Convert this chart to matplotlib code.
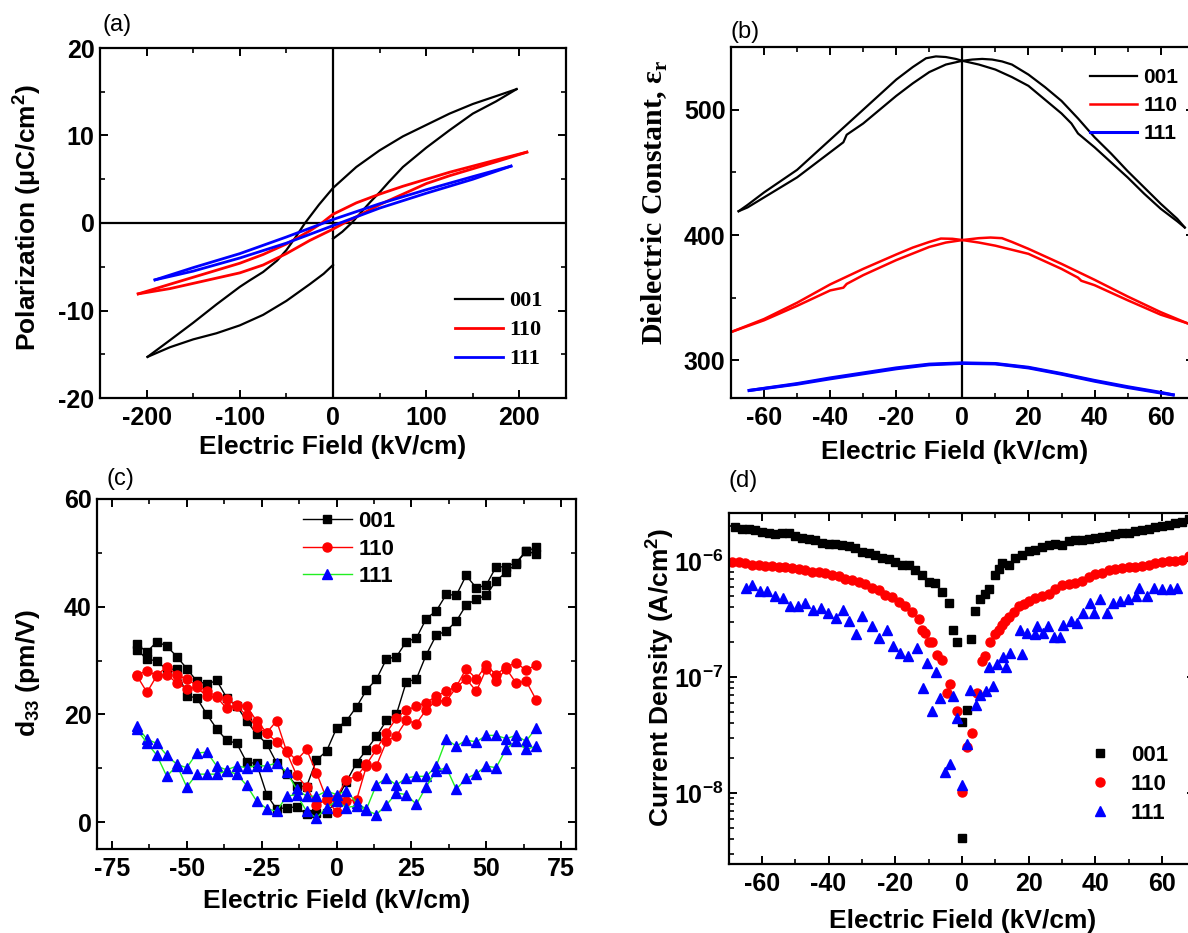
import numpy as np
import matplotlib
matplotlib.use("Agg")
import matplotlib.pyplot as plt
from matplotlib.font_manager import FontProperties
from matplotlib.ticker import MultipleLocator, FixedLocator, FuncFormatter, LogLocator, NullFormatter

TICK_SIZE = 18
LABEL_SIZE = 19

plt.rcParams.update({
    "font.family": ["Liberation Sans", "DejaVu Sans"],
    "font.weight": "bold",
    "font.size": TICK_SIZE,
    "axes.labelweight": "bold",
    "axes.labelsize": LABEL_SIZE,
    "axes.linewidth": 1.6,
    "axes.unicode_minus": False,
    "xtick.direction": "in",
    "ytick.direction": "in",
    "xtick.top": True,
    "ytick.right": True,
    "xtick.major.size": 6,
    "ytick.major.size": 6,
    "xtick.minor.size": 3.5,
    "ytick.minor.size": 3.5,
    "xtick.major.width": 1.4,
    "ytick.major.width": 1.4,
    "xtick.minor.width": 1.2,
    "ytick.minor.width": 1.2,
    "xtick.major.pad": 6,
    "ytick.major.pad": 4,
    "legend.frameon": False,
})

# ---------------- (a) P-E loops ----------------
pe_001_up_x = [197, 175, 150, 125, 100, 75, 50, 25, 0, -15, -30, -40, -50, -60, -75, -90, -100, -125, -150, -175, -199]
pe_001_up_y = [15.3, 14.5, 13.6, 12.5, 11.2, 9.9, 8.3, 6.4, 4.0, 2.1, 0.0, -1.6, -3.1, -4.3, -5.6, -6.6, -7.3, -9.3, -11.4, -13.4, -15.3]
pe_001_lo1_x = [-199, -175, -150, -125, -100, -75, -50, -25, -10, 0]
pe_001_lo1_y = [-15.3, -14.2, -13.3, -12.6, -11.7, -10.5, -8.9, -7.0, -5.8, -4.8]
pe_001_lo2_x = [0, 10, 20, 30, 40, 50, 60, 75, 100, 125, 150, 175, 197]
pe_001_lo2_y = [-1.8, -1.0, 0.0, 1.2, 2.4, 3.5, 4.7, 6.4, 8.6, 10.6, 12.5, 13.9, 15.3]

pe_110_up_x = [208, 175, 150, 125, 100, 75, 50, 25, 0, -12, -25, -50, -75, -100, -125, -150, -175, -209]
pe_110_up_y = [8.1, 7.2, 6.5, 5.8, 5.0, 4.2, 3.3, 2.3, 1.0, 0.0, -0.9, -2.4, -3.6, -4.6, -5.4, -6.2, -7.0, -8.1]
pe_110_lo_x = [-209, -175, -150, -125, -100, -75, -50, -25, 0, 12, 25, 50, 75, 100, 125, 150, 175, 208]
pe_110_lo_y = [-8.1, -7.5, -6.9, -6.3, -5.7, -4.8, -3.5, -2.0, -0.7, 0.0, 0.7, 2.1, 3.3, 4.5, 5.4, 6.2, 7.0, 8.1]

pe_111_up_x = [191, 150, 100, 50, 25, 0, -25, -50, -100, -150, -191]
pe_111_up_y = [6.5, 5.3, 3.8, 2.2, 1.3, 0.4, -0.6, -1.6, -3.5, -5.1, -6.5]
pe_111_lo_x = [-191, -150, -100, -50, -25, 0, 25, 50, 100, 150, 191]
pe_111_lo_y = [-6.5, -5.5, -4.0, -2.3, -1.3, -0.3, 0.7, 1.7, 3.4, 5.0, 6.5]

# ---------------- (b) dielectric constant ----------------
eps_001_a_x = [-67.7, -65, -60, -55, -50, -45, -40, -35, -30, -25, -20, -15, -11, -8, -5, -2, 0,
               5, 10, 15, 20, 25, 30, 33, 35, 40, 45, 50, 55, 60, 65, 67.3]
eps_001_a_y = [419, 424, 434, 443, 452, 464, 476, 488, 500, 512, 524, 534, 541, 542.5, 542, 540.5, 539,
               536, 532, 526, 519, 508, 497, 489, 481, 470, 458, 446, 433, 421, 411, 406]
eps_001_b_x = [-67.7, -65, -60, -55, -50, -45, -40, -36, -35, -30, -25, -20, -15, -10, -5, 0,
               3, 6, 9, 12, 15, 20, 25, 30, 35, 40, 45, 50, 55, 60, 65, 67.3]
eps_001_b_y = [419, 422, 430, 438, 446, 456, 466, 474, 480, 489, 500, 511, 521, 530, 536, 539,
               540, 540.5, 540, 538.5, 536, 528, 518, 507, 493, 478, 465, 451, 438, 425, 413, 406]

eps_110_a_x = [-70, -60, -50, -40, -30, -20, -15, -10, -6.5, -3, 0, 5, 10, 20, 30, 35, 36, 40, 50, 60, 68]
eps_110_a_y = [322.6, 333, 346, 360.6, 373, 384.5, 390, 394.5, 397.2, 397, 396, 394, 391.5, 385, 373,
               366, 363.5, 360, 348, 336.5, 329.7]
eps_110_b_x = [-70, -60, -50, -40, -36, -35, -30, -20, -10, -5, 0, 5, 8.5, 12, 15, 20, 30, 40, 50, 60, 68]
eps_110_b_y = [322.6, 332, 343.5, 355.8, 358, 361, 368, 380, 390.5, 394, 396, 397.5, 398, 397.5, 394.5,
               389, 377, 364.3, 351, 338.5, 329.7]

eps_111_x = [-64.5, -50, -40, -30, -20, -10, 0, 10, 20, 30, 40, 50, 60, 63.8]
eps_111_a_y = [276, 281.5, 286, 290, 294, 297, 298, 297.5, 294.5, 289.5, 284, 279, 274.5, 272.5]
eps_111_b_y = [276, 281, 285.3, 289.3, 293.3, 296.5, 297.6, 297.2, 294, 289, 283.4, 278.4, 274, 272.5]

# ---------------- (c) d33 ----------------
d33_field = [-66.7, -63.3, -60.0, -56.7, -53.3, -50.0, -46.7, -43.3, -40.0, -36.7, -33.3, -30.0, -26.7,
             -23.3, -20.0, -16.7, -13.3, -10.0, -6.7, -3.3, 0.0, 3.3, 6.7, 10.0, 13.3, 16.7, 20.0, 23.3,
             26.7, 30.0, 33.3, 36.7, 40.0, 43.3, 46.7, 50.0, 53.3, 56.7, 60.0, 63.3, 66.7]
d33_001_a = [33.0, 31.6, 33.5, 32.7, 30.7, 28.5, 26.2, 25.6, 26.3, 23.1, 21.5, 18.8, 16.4, 14.5, 11.0, 9.0,
             6.7, 6.6, 11.5, 13.2, 17.4, 18.8, 21.4, 24.5, 26.5, 30.3, 30.7, 33.5, 34.2, 37.8, 39.2, 42.3,
             42.1, 45.8, 43.5, 44.0, 47.4, 47.4, 48.2, 50.3, 51.0]
d33_001_b = [32.0, 30.3, 29.9, 28.3, 28.5, 23.4, 23.1, 20.0, 17.3, 15.2, 14.6, 11.1, 10.9, 5.1, 2.4, 2.7,
             2.8, 1.5, 1.7, 1.7, 4.0, 7.5, 11.0, 13.4, 15.9, 18.9, 20.0, 26.0, 26.6, 31.1, 34.7, 35.5,
             37.3, 40.3, 41.4, 42.1, 44.8, 46.4, 48.0, 50.3, 49.8]
d33_110_a = [27.4, 28.0, 27.3, 28.8, 27.4, 26.5, 25.4, 24.3, 23.4, 22.8, 21.7, 21.5, 18.8, 16.6, 18.8, 13.2,
             11.5, 13.5, 9.2, 4.3, 4.5, 7.9, 8.5, 10.7, 13.5, 16.6, 19.3, 20.8, 21.5, 22.2, 23.4, 24.3,
             25.1, 28.5, 26.6, 29.1, 27.4, 28.8, 29.6, 28.2, 29.2]
d33_110_b = [27.2, 24.1, 27.2, 27.4, 25.8, 24.8, 25.0, 23.4, 23.2, 21.1, 21.5, 19.8, 17.7, 16.5, 14.9, 13.0,
             8.7, 6.5, 3.2, 4.1, 1.9, 4.0, 4.1, 10.4, 10.4, 15.0, 16.0, 18.9, 18.3, 20.9, 22.5, 22.5,
             25.0, 26.6, 24.3, 28.4, 26.2, 28.5, 25.8, 26.2, 22.7]
d33_111_a = [17.8, 15.4, 14.6, 12.4, 10.7, 10.1, 12.8, 13.0, 10.4, 9.7, 10.4, 10.1, 10.5, 10.4, 11.0, 9.3,
             6.1, 4.8, 4.8, 5.8, 5.1, 5.8, 3.6, 2.4, 6.9, 8.2, 6.9, 8.2, 8.5, 8.5, 10.4, 15.4,
             14.1, 15.2, 14.9, 16.1, 16.1, 15.5, 16.1, 15.0, 17.5]
d33_111_b = [17.2, 14.7, 12.4, 8.5, 10.5, 6.5, 8.9, 8.9, 8.9, 9.5, 8.9, 6.8, 3.9, 2.5, 2.0, 4.8,
             5.1, 2.0, 0.8, 2.7, 3.9, 2.7, 3.0, 2.2, 1.4, 3.2, 5.4, 5.1, 3.3, 6.6, 9.5, 10.1,
             6.1, 8.1, 9.0, 10.4, 10.1, 13.6, 15.0, 13.5, 14.1]

# ---------------- (d) leakage current (log10 of A/cm^2) ----------------
j_001_x = [-68, -66, -64, -62, -60, -58, -56, -54, -52, -50, -48, -46, -44, -42, -40, -38, -36, -34, -32,
           -30, -28, -26, -24, -22, -20, -18, -16, -14, -12, -10, -8, -6, -4,
           -2.8, -1.5, 0, 0, 1.4, 2.8, 4, 5.5, 7, 8, 10, 11, 12,
           14, 16, 18, 20, 22, 24, 26, 28, 30, 32, 34, 36, 38, 40, 42, 44, 46, 48, 50, 52, 54, 56, 58,
           60, 62, 64, 66, 68]
j_001_log = [-5.71, -5.72, -5.72, -5.73, -5.75, -5.76, -5.77, -5.76, -5.76, -5.78, -5.80, -5.81, -5.82,
             -5.84, -5.85, -5.85, -5.86, -5.87, -5.89, -5.92, -5.93, -5.95, -5.97, -5.98, -6.01, -6.03,
             -6.03, -6.08, -6.12, -6.18, -6.19, -6.27, -6.36,
             -6.59, -6.70, -8.39, -7.39, -7.28, -6.67, -6.43, -6.33, -6.28, -6.24, -6.12, -6.07, -6.02,
             -6.03, -5.97, -5.95, -5.91, -5.90, -5.88, -5.86, -5.85, -5.86, -5.83, -5.82, -5.82, -5.81,
             -5.80, -5.79, -5.78, -5.77, -5.76, -5.76, -5.74, -5.73, -5.72, -5.71, -5.70, -5.69, -5.67,
             -5.66, -5.64]
j_110_x = [-69, -67, -65, -63, -61, -59, -57, -55, -53, -51, -49, -47, -45, -43, -41, -39, -37, -35, -33,
           -31, -29, -27, -25, -23, -21, -19, -17, -15, -13,
           -12, -11, -10, -9, -7.5, -6, -4.5, -3.5, -1.5, 0, 1.5, 3, 4.5, 6, 7, 8.5, 10, 11, 12, 13, 14,
           15.5, 17, 18.5, 20,
           22, 24, 26, 28, 30, 32, 34, 36, 38, 40, 42, 44, 46, 48, 50, 52, 54, 56, 58, 60, 62, 64, 66, 68]
j_110_log = [-6.01, -6.01, -6.02, -6.03, -6.03, -6.04, -6.04, -6.05, -6.05, -6.06, -6.07, -6.08, -6.09,
             -6.09, -6.10, -6.12, -6.13, -6.15, -6.16, -6.18, -6.20, -6.23, -6.25, -6.29, -6.31, -6.35,
             -6.39, -6.44, -6.50,
             -6.59, -6.62, -6.70, -6.70, -6.81, -6.85, -7.14, -7.06, -7.29, -7.99, -7.60, -7.48, -7.14,
             -6.86, -6.82, -6.70, -6.63, -6.59, -6.55, -6.52, -6.48, -6.44, -6.39, -6.37, -6.34,
             -6.32, -6.30, -6.28, -6.24, -6.21, -6.20, -6.19, -6.17, -6.14, -6.11, -6.10, -6.08, -6.07,
             -6.06, -6.05, -6.05, -6.04, -6.03, -6.02, -6.01, -6.00, -6.00, -5.99, -5.96]
j_111_x = [-64.7, -63, -60.7, -58.4, -56.1, -53.8, -51.5, -49.3, -47, -44.7, -42.4, -40.2, -37.9, -35.6,
           -33.9, -31.7, -30, -27.1, -24.8, -22.5, -20.8, -18.5, -16.2, -13.4, -11.7, -10.6, -9.1, -7.7,
           -6.6, -5.1, -3.7, -2.6, -1.5, 0, 1.4, 2.5, 4.2, 5.4, 7.1, 8.2, 9.4, 10.5, 12.2, 13.3, 14.5,
           17.3, 17.9, 19.6, 21.9, 22.5, 24.2, 25.9, 27.6, 29.3, 30.4, 32.7, 34.4, 36.2, 38.4, 39.5,
           41.3, 43.6, 45.3, 47.5, 49.8, 52.1, 53.2, 55.5, 57.7, 60, 62.3, 64.6]
j_111_log = [-6.23, -6.21, -6.26, -6.26, -6.30, -6.32, -6.39, -6.39, -6.36, -6.42, -6.40, -6.45, -6.49,
             -6.42, -6.52, -6.63, -6.47, -6.56, -6.66, -6.59, -6.73, -6.79, -6.82, -6.75, -7.09, -6.88,
             -7.29, -6.96, -7.18, -7.82, -7.75, -7.16, -7.35, -7.93, -7.58, -7.11, -7.24, -7.15, -7.12,
             -6.91, -7.08, -6.89, -6.83, -6.91, -6.79, -6.59, -6.80, -6.62, -6.63, -6.56, -6.62, -6.56,
             -6.65, -6.65, -6.55, -6.52, -6.53, -6.45, -6.36, -6.45, -6.33, -6.45, -6.36, -6.34, -6.33,
             -6.30, -6.23, -6.30, -6.23, -6.24, -6.24, -6.23]

labels = ["001", "110", "111"]

W, H = 1188.0, 933.0
fig = plt.figure(figsize=(W / 100, H / 100), dpi=100)


def px_axes(left, top, right, bottom):
    # axes box given in pixel coordinates of the final image
    return fig.add_axes([left / W, 1 - bottom / H, (right - left) / W, (bottom - top) / H])


def place_labels(ax, xl, yl, xpos, ypos, yfont=None):
    ax.set_xlabel(xl, va="center")
    ax.xaxis.set_label_coords(xpos[0], xpos[1])
    if yfont is None:
        ax.set_ylabel(yl, va="center")
    else:
        ax.set_ylabel(yl, va="center", fontproperties=yfont)
    ax.yaxis.set_label_coords(ypos[0], ypos[1])


ax_a = px_axes(100, 48, 566, 398)
ax_b = px_axes(731, 47, 1193.7, 398)
ax_c = px_axes(97, 499, 576, 849)
ax_d = px_axes(728.5, 513, 1195.3, 864)

# ---- (a)
ax_a.axhline(0, color="black", lw=1.6, zorder=1)
ax_a.axvline(0, color="black", lw=1.6, zorder=1)
ax_a.plot(pe_001_up_x, pe_001_up_y, color="black", lw=1.6, label=labels[0])
ax_a.plot(pe_001_lo1_x, pe_001_lo1_y, color="black", lw=1.6)
ax_a.plot(pe_001_lo2_x, pe_001_lo2_y, color="black", lw=1.6)
ax_a.plot(pe_110_up_x, pe_110_up_y, color="red", lw=2.0, label=labels[1])
ax_a.plot(pe_110_lo_x, pe_110_lo_y, color="red", lw=2.0)
ax_a.plot(pe_111_up_x, pe_111_up_y, color="blue", lw=2.0, label=labels[2])
ax_a.plot(pe_111_lo_x, pe_111_lo_y, color="blue", lw=2.0)
ax_a.set_xlim(-250, 250)
ax_a.set_ylim(-20, 20)
ax_a.xaxis.set_major_locator(MultipleLocator(100))
ax_a.xaxis.set_minor_locator(MultipleLocator(50))
ax_a.yaxis.set_major_locator(MultipleLocator(10))
ax_a.yaxis.set_minor_locator(MultipleLocator(5))
place_labels(ax_a, "Electric Field (kV/cm)", "Polarization (μC/cm$^\\mathregular{2}$)",
             (0.5, -0.14), (-0.158, 0.517))
ax_a.legend(loc="upper left", bbox_to_anchor=(0.762, 0.306), borderaxespad=0, borderpad=0,
            handlelength=2.15, handletextpad=0.3, labelspacing=0.38,
            prop={"family": "Liberation Serif", "weight": "bold", "size": 16})

# ---- (b)
ax_b.axvline(0, color="black", lw=1.6, zorder=1)
ax_b.plot(eps_001_a_x, eps_001_a_y, color="black", lw=1.6, label=labels[0])
ax_b.plot(eps_001_b_x, eps_001_b_y, color="black", lw=1.6)
ax_b.plot(eps_110_a_x, eps_110_a_y, color="red", lw=1.8, label=labels[1])
ax_b.plot(eps_110_b_x, eps_110_b_y, color="red", lw=1.8)
ax_b.plot(eps_111_x, eps_111_a_y, color="blue", lw=2.2, label=labels[2])
ax_b.plot(eps_111_x, eps_111_b_y, color="blue", lw=2.2)
ax_b.set_xlim(-70, 70)
ax_b.set_ylim(270, 550)
ax_b.xaxis.set_major_locator(MultipleLocator(20))
ax_b.xaxis.set_minor_locator(MultipleLocator(10))
ax_b.yaxis.set_major_locator(FixedLocator([300, 400, 500]))
ax_b.yaxis.set_minor_locator(FixedLocator([350, 450]))
serif_bold = FontProperties(family="Liberation Serif", weight="bold", size=21.5)
place_labels(ax_b, "Electric Field (kV/cm)", "Dielectric Constant, ε$_\\mathregular{r}$",
             (0.483, -0.154), (-0.164, 0.556), yfont=serif_bold)
ax_b.legend(loc="upper left", bbox_to_anchor=(0.776, 0.94), borderaxespad=0, borderpad=0,
            handlelength=2.25, handletextpad=0.3, labelspacing=0.43,
            prop={"weight": "bold", "size": 15})

# ---- (c)
green = "#22ee22"
ax_c.plot(d33_field, d33_001_a, color="black", lw=1.0, marker="s", ms=6, mfc="black", mec="black",
          label=labels[0])
ax_c.plot(d33_field, d33_001_b, color="black", lw=1.0, marker="s", ms=6, mfc="black", mec="black")
ax_c.plot(d33_field, d33_110_a, color="red", lw=1.0, marker="o", ms=6.5, mfc="red", mec="red",
          label=labels[1])
ax_c.plot(d33_field, d33_110_b, color="red", lw=1.0, marker="o", ms=6.5, mfc="red", mec="red")
ax_c.plot(d33_field, d33_111_a, color=green, lw=1.0, marker="^", ms=7, mfc="blue", mec="blue",
          label=labels[2])
ax_c.plot(d33_field, d33_111_b, color=green, lw=1.0, marker="^", ms=7, mfc="blue", mec="blue")
ax_c.set_xlim(-80, 80)
ax_c.set_ylim(-5, 60)
ax_c.xaxis.set_major_locator(MultipleLocator(25))
ax_c.xaxis.set_minor_locator(MultipleLocator(12.5))
ax_c.yaxis.set_major_locator(MultipleLocator(20))
ax_c.yaxis.set_minor_locator(MultipleLocator(10))
place_labels(ax_c, "Electric Field (kV/cm)", "d$_\\mathregular{33}$ (pm/V)",
             (0.501, -0.149), (-0.144, 0.503))
ax_c.legend(loc="upper left", bbox_to_anchor=(0.43, 0.966), borderaxespad=0, borderpad=0,
            handlelength=2.2, handletextpad=0.3, labelspacing=0.3,
            prop={"weight": "bold", "size": 16})

# ---- (d)
ax_d.semilogy(j_001_x, 10 ** np.array(j_001_log), ls="none", marker="s", ms=5.5, color="black",
              label=labels[0])
ax_d.semilogy(j_110_x, 10 ** np.array(j_110_log), ls="none", marker="o", ms=6.5, color="red",
              label=labels[1])
ax_d.semilogy(j_111_x, 10 ** np.array(j_111_log), ls="none", marker="^", ms=7, color="blue",
              label=labels[2])
ax_d.set_xlim(-70, 70)
ax_d.set_ylim(2.45e-9, 2.6e-6)
ax_d.xaxis.set_major_locator(MultipleLocator(20))
ax_d.xaxis.set_minor_locator(MultipleLocator(10))
ax_d.yaxis.set_major_locator(FixedLocator([1e-8, 1e-7, 1e-6]))
ax_d.yaxis.set_minor_locator(LogLocator(base=10, subs=np.arange(2, 10)))
ax_d.yaxis.set_minor_formatter(NullFormatter())
ax_d.yaxis.set_major_formatter(FuncFormatter(
    lambda v, p: "$\\mathregular{10^{%d}}$" % int(round(np.log10(v)))))
place_labels(ax_d, "Electric Field (kV/cm)", "Current Density (A/cm$^\\mathregular{2}$)",
             (0.501, -0.162), (-0.147, 0.531))
ax_d.legend(loc="upper left", bbox_to_anchor=(0.772, 0.339), borderaxespad=0, borderpad=0,
            handlelength=1.0, handletextpad=0.9, labelspacing=0.36,
            prop={"weight": "bold", "size": 16})

for ax in (ax_a, ax_b, ax_c, ax_d):
    for t in ax.get_xticklabels() + ax.get_yticklabels():
        t.set_fontweight("bold")

# panel letters
fig.text(102 / W, 1 - 25 / H, "(a)", fontsize=17, fontweight="normal", va="center")
fig.text(731 / W, 1 - 32 / H, "(b)", fontsize=17, fontweight="normal", va="center")
fig.text(106 / W, 1 - 479 / H, "(c)", fontsize=17, fontweight="normal", va="center")
fig.text(728 / W, 1 - 481 / H, "(d)", fontsize=17, fontweight="normal", va="center")

fig.savefig("out.png", dpi=100)
